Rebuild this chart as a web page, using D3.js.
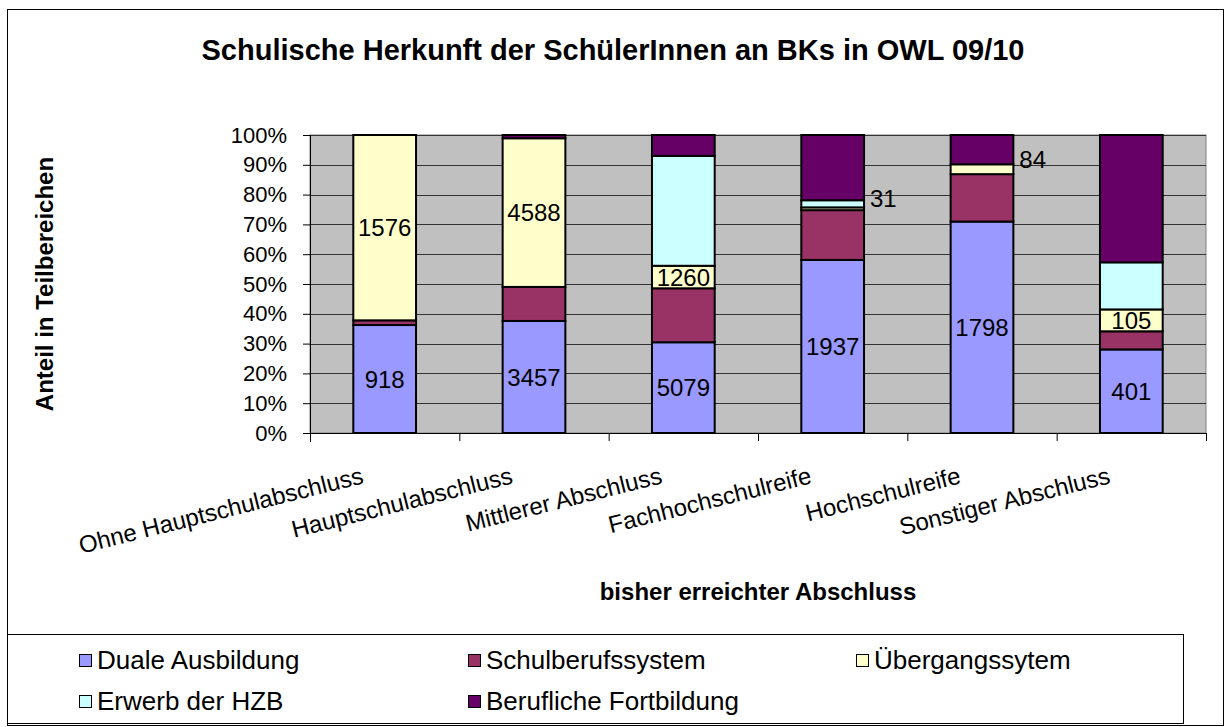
<!DOCTYPE html>
<html>
<head>
<meta charset="utf-8">
<script src="https://cdn.jsdelivr.net/npm/d3@7"></script>
<style>
  body { margin: 0; background: #fff; }
  text { font-family: "Liberation Sans", Arial, sans-serif; fill: #000; }
</style>
</head>
<body>
<div id="chart"></div>
<script>
// Schulische Herkunft der SchülerInnen an BKs in OWL 09/10
let categories = ["Ohne Hauptschulabschluss", "Hauptschulabschluss", "Mittlerer Abschluss",
    "Fachhochschulreife", "Hochschulreife", "Sonstiger Abschluss"];
let seriesNames = ["Duale Ausbildung", "Schulberufssystem", "Übergangssytem",
    "Erwerb der HZB", "Berufliche Fortbildung"];
let duale = [918, 3457, 5079, 1937, 1798, 401];
let schulberuf = [40, 1050, 3020, 557, 403, 87];
let uebergang = [1576, 4588, 1260, 31, 84, 105];
let hzb = [0, 0, 6150, 80, 0, 226];
let fortbildung = [0, 100, 1170, 730, 249, 611];
let colors = ["#9999FF", "#993366", "#FFFFCC", "#CCFFFF", "#660066"];
let yTicks = [0, 0.1, 0.2, 0.3, 0.4, 0.5, 0.6, 0.7, 0.8, 0.9, 1];

let width = 1228, height = 727;
let plot = {left: 310, right: 1206, top: 135, bottom: 433};

let keys = ["duale", "schulberuf", "uebergang", "hzb", "fortbildung"];
let table = categories.map(function(c, i) {
    return {cat: c, duale: duale[i], schulberuf: schulberuf[i], uebergang: uebergang[i],
        hzb: hzb[i], fortbildung: fortbildung[i]};
});
let stacked = d3.stack().keys(keys).offset(d3.stackOffsetExpand)(table);

let svg = d3.select("#chart").append("svg")
    .attr("width", width)
    .attr("height", height);

// outer frame
svg.append("rect")
    .attr("x", 7.5).attr("y", 9.5)
    .attr("width", 1216).attr("height", 716)
    .attr("fill", "#fff").attr("stroke", "#000").attr("stroke-width", 1);

let x = d3.scaleBand()
    .domain(categories)
    .range([plot.left, plot.right])
    .paddingInner(0.58)
    .paddingOuter(0.29);

let xb = d3.scaleBand().domain(categories).range([plot.left, plot.right]);

let y = d3.scaleLinear()
    .domain([0, 1])
    .range([plot.bottom, plot.top]);

// plot background
svg.append("rect")
    .attr("x", plot.left).attr("y", plot.top)
    .attr("width", plot.right - plot.left).attr("height", plot.bottom - plot.top)
    .attr("fill", "#C0C0C0").attr("stroke", "#808080");

// gridlines
svg.append("g").selectAll("line").data(yTicks).enter()
    .append("line")
    .attr("x1", plot.left).attr("x2", plot.right)
    .attr("y1", function(d) { return Math.round(y(d)) + 0.5; })
    .attr("y2", function(d) { return Math.round(y(d)) + 0.5; })
    .attr("stroke", "#333").attr("stroke-width", 1);

// bars
let layers = svg.append("g").selectAll("g").data(stacked).enter()
    .append("g")
    .attr("fill", function(d, i) { return colors[i]; });

layers.selectAll("rect")
    .data(function(d) { return d.filter(function(s) { return s[1] - s[0] > 0; }); })
    .enter()
    .append("rect")
    .attr("x", function(d) { return x(d.data.cat); })
    .attr("y", function(d) { return y(d[1]); })
    .attr("width", x.bandwidth())
    .attr("height", function(d) { return y(d[0]) - y(d[1]); })
    .attr("stroke", "#000").attr("stroke-width", 2);

// y axis
let yAxis = svg.append("g")
    .attr("transform", `translate(${plot.left},0)`)
    .call(d3.axisLeft(y).tickValues(yTicks).tickFormat(d3.format(".0%")).tickSize(7).tickPadding(16));
yAxis.select(".domain").attr("d", `M0.5,${plot.top}V${plot.bottom + 9}`).attr("stroke", "#000");
yAxis.selectAll("text").style("font-size", "22px").style("font-family", "Liberation Sans, Arial, sans-serif");

// x axis with ticks at category boundaries
let xAxisG = svg.append("g");
xAxisG.append("line")
    .attr("x1", plot.left).attr("x2", plot.right)
    .attr("y1", plot.bottom + 0.5).attr("y2", plot.bottom + 0.5)
    .attr("stroke", "#000");
xAxisG.selectAll(".tk").data(categories.concat(["end"])).enter()
    .append("line")
    .attr("class", "tk")
    .attr("x1", function(d, i) { return (i < categories.length ? xb(d) : plot.right) + 0.5; })
    .attr("x2", function(d, i) { return (i < categories.length ? xb(d) : plot.right) + 0.5; })
    .attr("y1", plot.bottom).attr("y2", plot.bottom + 8)
    .attr("stroke", "#000");

xAxisG.selectAll(".lbl").data(categories).enter()
    .append("text")
    .attr("class", "lbl")
    .attr("transform", function(d) {
        return `translate(${x(d) + x.bandwidth() / 2 - 20}, 483) rotate(-14)`;
    })
    .style("text-anchor", "end")
    .style("font-size", "24px")
    .text(function(d) { return d; });

// data labels: Duale Ausbildung and Übergangssystem
let labelSeries = [0, 2];
labelSeries.forEach(function(si) {
    svg.append("g").selectAll("text").data(stacked[si]).enter()
        .append("text")
        .attr("x", function(d) {
            let h = y(d[0]) - y(d[1]);
            return h < 18 ? x(d.data.cat) + x.bandwidth() + 6 : x(d.data.cat) + x.bandwidth() / 2;
        })
        .attr("y", function(d) {
            let h = y(d[0]) - y(d[1]);
            let mid = (y(d[0]) + y(d[1])) / 2;
            return h < 18 ? mid - 10 : mid;
        })
        .attr("dy", "0.36em")
        .style("text-anchor", function(d) { return (y(d[0]) - y(d[1])) < 18 ? "start" : "middle"; })
        .style("font-size", "24px")
        .text(function(d) { return d.data[keys[si]]; });
});

// titles
svg.append("text")
    .attr("x", 613).attr("y", 60)
    .style("text-anchor", "middle")
    .style("font-size", "29px")
    .style("font-weight", "bold")
    .text("Schulische Herkunft der SchülerInnen an BKs in OWL 09/10");

svg.append("text")
    .attr("transform", `translate(53, ${(plot.top + plot.bottom) / 2}) rotate(-90)`)
    .style("text-anchor", "middle")
    .style("font-size", "24px")
    .style("font-weight", "bold")
    .text("Anteil in Teilbereichen");

svg.append("text")
    .attr("x", 758).attr("y", 600)
    .style("text-anchor", "middle")
    .style("font-size", "24px")
    .style("font-weight", "bold")
    .text("bisher erreichter Abschluss");

// legend
svg.append("rect")
    .attr("x", 7.5).attr("y", 634.5)
    .attr("width", 1176).attr("height", 89)
    .attr("fill", "#fff").attr("stroke", "#000");

let legendCols = [79, 468, 856];
let legend = svg.append("g").selectAll("g").data(seriesNames).enter()
    .append("g")
    .attr("transform", function(d, i) {
        return `translate(${legendCols[i % 3]}, ${i < 3 ? 660 : 701})`;
    });
legend.append("rect")
    .attr("x", 0.5).attr("y", -5.5)
    .attr("width", 12).attr("height", 12)
    .attr("fill", function(d, i) { return colors[i]; })
    .attr("stroke", "#000");
legend.append("text")
    .attr("x", 18).attr("dy", "0.36em")
    .style("font-size", "26px")
    .text(function(d) { return d; });
</script>
</body>
</html>
